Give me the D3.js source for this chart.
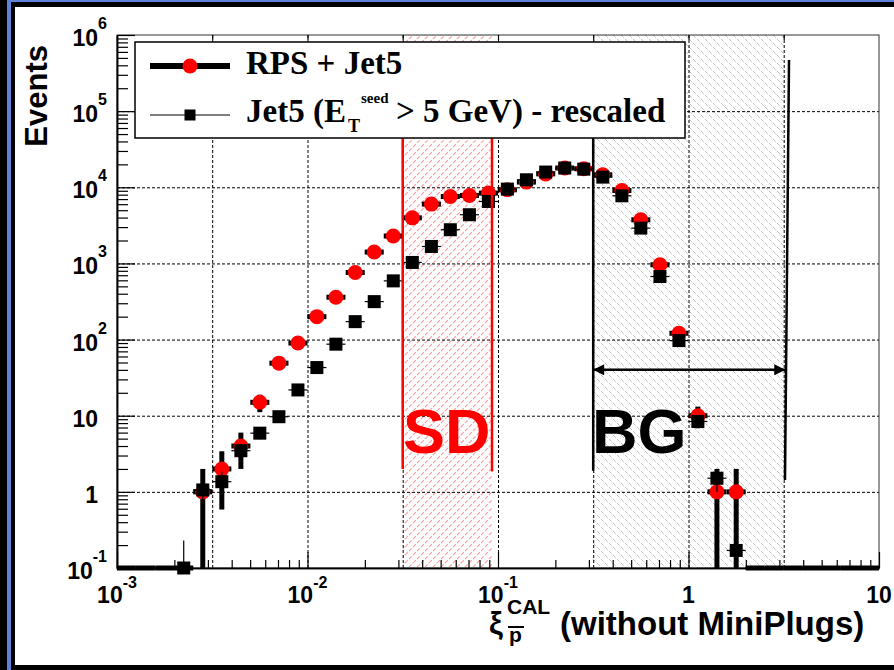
<!DOCTYPE html>
<html>
<head>
<meta charset="utf-8">
<script src="https://cdnjs.cloudflare.com/ajax/libs/d3/7.8.5/d3.min.js"></script>
<style>
body { margin:0; background:#fff; }
svg { display:block; }
.grid line { stroke:#000; stroke-width:1; stroke-dasharray:3,2; }
.grid path { display:none; }
.ax path { stroke:#000; stroke-width:1.5; }
.ax line { stroke:#000; stroke-width:1.2; }
</style>
</head>
<body>
<div id="chart-area"></div>
<script>
// bin centres of xi (bins 0.1 wide in log10)
var xiBins = [0.00112, 0.00141, 0.00178, 0.00224, 0.00282, 0.00355, 0.00447, 0.00562, 0.00708, 0.00891,
              0.0112, 0.0141, 0.0178, 0.0224, 0.0282, 0.0355, 0.0447, 0.0562, 0.0708, 0.0891,
              0.112, 0.141, 0.178, 0.224, 0.282, 0.355, 0.447, 0.562, 0.708, 0.891,
              1.12, 1.41, 1.78, 2.24, 2.82, 3.55, 4.47, 5.62, 7.08, 8.91];

// RPS + Jet5 (counts)
var rpsJet5 = [0, 0, 0, 0, 1, 2, 4, 15, 49, 90,
               200, 360, 760, 1410, 2290, 3970, 6010, 7570, 7800, 8390,
               9270, 11700, 15000, 17900, 17500, 14600, 9080, 3740, 960, 121,
               10, 1, 1, 0, 0, 0, 0, 0, 0, 0];

// Jet5 (E_T seed > 5 GeV) - rescaled
var jet5Rescaled = [0, 0, 0, 0.1, 1.06, 1.36, 3.47, 5.9, 9.7, 21.8,
                    42.9, 87, 172, 315, 590, 1030, 1670, 2770, 4360, 6510,
                    9460, 12550, 15850, 17900, 17300, 13600, 7730, 2910, 673, 97,
                    8.4, 1.51, 0.17, 0, 0, 0, 0, 0, 0, 0];
var rescale = 0.17;

var xTickVals = [1e-3, 1e-2, 1e-1, 1, 10];
var xTickBase = ['10', '10', '10', '1', '10'];
var xTickExp  = ['-3', '-2', '-1', '', ''];
var yTickVals = [1e6, 1e5, 1e4, 1e3, 1e2, 10, 1, 0.1];
var yTickBase = ['10', '10', '10', '10', '10', '10', '1', '10'];
var yTickExp  = ['6', '5', '4', '3', '2', '', '', '-1'];
var xGridVals = [0.00316, 0.01, 0.0316, 0.1, 0.316, 1, 3.16];
var yGridVals = [1, 10, 100, 1e3, 1e4, 1e5];

var sdRange = [0.0316, 0.093];
var bgRange = [0.316, 3.16];

var W = 894, H = 670;
var padLeft = 117, padTop = 35;
var width = 762, height = 533;

var svg = d3.select('#chart-area').append('svg')
    .attr('width', W)
    .attr('height', H);

// slide frame
svg.append('rect').attr('x', 0).attr('y', 0).attr('width', 7).attr('height', H).attr('fill', '#000');
svg.append('rect').attr('x', 7).attr('y', 0).attr('width', 4).attr('height', H).attr('fill', '#5f82d8');
svg.append('rect').attr('x', 7).attr('y', 0).attr('width', W - 7).attr('height', 2).attr('fill', '#5f82d8');
svg.append('rect').attr('x', 11).attr('y', 2).attr('width', W - 11).attr('height', 5).attr('fill', '#000');
svg.append('rect').attr('x', 11).attr('y', 2).attr('width', 4).attr('height', H - 2).attr('fill', '#000');
svg.append('rect').attr('x', 11).attr('y', 665).attr('width', W - 11).attr('height', 5).attr('fill', '#000');

var defs = svg.append('defs');
var pr = defs.append('pattern').attr('id', 'hatchRed')
    .attr('patternUnits', 'userSpaceOnUse').attr('width', 8).attr('height', 8);
pr.append('path').attr('d', 'M0,8 L8,0 M-2,2 L2,-2 M6,10 L10,6')
    .attr('stroke', '#ff9a9a').attr('stroke-width', 1.1).attr('stroke-dasharray', '4,1.5');
var pg = defs.append('pattern').attr('id', 'hatchGrey')
    .attr('patternUnits', 'userSpaceOnUse').attr('width', 8).attr('height', 8);
pg.append('path').attr('d', 'M0,0 L8,8 M-2,6 L2,10 M6,-2 L10,2')
    .attr('stroke', '#c2c2c2').attr('stroke-width', 1).attr('stroke-dasharray', '4,1.5');

var g = svg.append('g')
    .attr('transform', 'translate(' + padLeft + ',' + padTop + ')');

var x = d3.scaleLog().domain([1e-3, 10]).range([0, width]);
var y = d3.scaleLog().domain([0.1, 1e6]).range([height, 0]);

// hatched regions
g.append('rect')
    .attr('x', x(sdRange[0])).attr('y', 0)
    .attr('width', x(sdRange[1]) - x(sdRange[0])).attr('height', height)
    .attr('fill', 'url(#hatchRed)');
g.append('rect')
    .attr('x', x(bgRange[0])).attr('y', 0)
    .attr('width', x(bgRange[1]) - x(bgRange[0])).attr('height', height)
    .attr('fill', 'url(#hatchGrey)');

// grid
g.append('g').attr('class', 'grid')
    .attr('transform', 'translate(0,' + height + ')')
    .call(d3.axisBottom(x).tickValues(xGridVals).tickSize(-height).tickSizeOuter(0).tickFormat(''));
g.append('g').attr('class', 'grid')
    .call(d3.axisLeft(y).tickValues(yGridVals).tickSize(-width).tickSizeOuter(0).tickFormat(''));

// frame of the pad
g.append('rect').attr('x', 0).attr('y', 0).attr('width', width).attr('height', height)
    .attr('fill', 'none').attr('stroke', '#333').attr('stroke-width', 1);

// minor tick positions
var xMinor = [], yMinor = [];
xTickVals.slice(0, -1).forEach(function(d){
    for (var k = 2; k < 10; k++) xMinor.push(d * k);
});
d3.range(-1, 6).forEach(function(e){
    for (var k = 2; k < 10; k++) yMinor.push(Math.pow(10, e) * k);
});

g.append('g').attr('class', 'ax')
    .attr('transform', 'translate(0,' + height + ')')
    .call(d3.axisBottom(x).tickValues(xMinor).tickSize(-8).tickSizeOuter(0).tickFormat(''));
g.append('g').attr('class', 'ax')
    .attr('transform', 'translate(0,' + height + ')')
    .call(d3.axisBottom(x).tickValues(xTickVals).tickSize(-16).tickSizeOuter(0).tickFormat(''));
g.append('g').attr('class', 'ax')
    .call(d3.axisTop(x).tickValues(xGridVals).tickSize(-5).tickSizeOuter(0).tickFormat(''))
    .select('path').remove();
g.append('g').attr('class', 'ax')
    .call(d3.axisLeft(y).tickValues(yMinor).tickSize(-11).tickSizeOuter(0).tickFormat(''));
g.append('g').attr('class', 'ax')
    .call(d3.axisLeft(y).tickValues(yTickVals).tickSize(-18).tickSizeOuter(0).tickFormat(''));

// tick labels
var labFont = "'Liberation Sans', Arial, sans-serif";
xTickVals.forEach(function(d, i){
    var t = g.append('text')
        .attr('x', x(d)).attr('y', height + 35)
        .attr('text-anchor', 'middle')
        .attr('font-family', labFont).attr('font-weight', 'bold').attr('font-size', 23);
    t.append('tspan').text(xTickBase[i]);
    if (xTickExp[i]) t.append('tspan').attr('dy', -15).attr('font-size', 16).text(xTickExp[i]);
});
yTickVals.forEach(function(d, i){
    var t = g.append('text')
        .attr('x', yTickExp[i] ? -10 : -19)
        .attr('y', y(d) + 11)
        .attr('text-anchor', 'end')
        .attr('font-family', labFont).attr('font-weight', 'bold').attr('font-size', 23);
    t.append('tspan').text(yTickBase[i]);
    if (yTickExp[i]) t.append('tspan').attr('dy', -17).attr('font-size', 16).text(yTickExp[i]);
});

// data: histograms with error bars
var halfBin = Math.pow(10, 0.05);
function drawSeries(vals, errFn, lw, drawMarker) {
    var s = g.append('g');
    vals.forEach(function(v, i){
        var xc = xiBins[i];
        var yc = v > 0.1 ? y(v) : height;
        s.append('line')
            .attr('x1', x(xc / halfBin)).attr('x2', x(xc * halfBin))
            .attr('y1', yc).attr('y2', yc)
            .attr('stroke', '#000').attr('stroke-width', lw);
        if (v > 0) {
            var e = errFn(v);
            var lo = v - e > 0.1 ? y(v - e) : height;
            var hi = y(v + e);
            s.append('line')
                .attr('x1', x(xc)).attr('x2', x(xc))
                .attr('y1', lo).attr('y2', hi)
                .attr('stroke', '#000').attr('stroke-width', lw);
        }
    });
    vals.forEach(function(v, i){
        if (v > 0) drawMarker(s, x(xiBins[i]), v > 0.1 ? y(v) : height);
    });
}

drawSeries(rpsJet5, function(v){ return Math.sqrt(v); }, 5, function(s, cx, cy){
    s.append('circle').attr('cx', cx).attr('cy', cy).attr('r', 7.5).attr('fill', '#ff0000');
});
drawSeries(jet5Rescaled, function(v){ return Math.sqrt(rescale * v); }, 1.2, function(s, cx, cy){
    s.append('rect').attr('x', cx - 6.5).attr('y', cy - 6.5).attr('width', 13).attr('height', 13).attr('fill', '#000');
});

// axis titles
svg.append('text')
    .attr('transform', 'translate(47,45) rotate(-90)')
    .attr('text-anchor', 'end')
    .attr('font-family', labFont).attr('font-weight', 'bold').attr('font-size', 31)
    .text('Events');

svg.append('text').attr('x', 489).attr('y', 634)
    .attr('font-family', labFont).attr('font-weight', 'bold').attr('font-size', 31)
    .text('\u03BE');
svg.append('text').attr('x', 507).attr('y', 614)
    .attr('font-family', labFont).attr('font-weight', 'bold').attr('font-size', 21)
    .text('CAL');
svg.append('text').attr('x', 509).attr('y', 642)
    .attr('font-family', labFont).attr('font-weight', 'bold').attr('font-size', 21)
    .text('p');
svg.append('line').attr('x1', 508).attr('x2', 524).attr('y1', 627).attr('y2', 627)
    .attr('stroke', '#000').attr('stroke-width', 2);
svg.append('text').attr('x', 560).attr('y', 635)
    .attr('font-family', labFont).attr('font-weight', 'bold').attr('font-size', 33)
    .text('(without MiniPlugs)');

// legend
var serif = "'Liberation Serif', 'Times New Roman', serif";
var leg = svg.append('g');
leg.append('rect').attr('x', 135).attr('y', 42).attr('width', 550).attr('height', 96)
    .attr('fill', '#fff').attr('stroke', '#000').attr('stroke-width', 1.5);
leg.append('line').attr('x1', 150).attr('x2', 230).attr('y1', 66).attr('y2', 66)
    .attr('stroke', '#000').attr('stroke-width', 6);
leg.append('circle').attr('cx', 190).attr('cy', 66).attr('r', 7.5).attr('fill', '#ff0000');
leg.append('line').attr('x1', 150).attr('x2', 230).attr('y1', 115).attr('y2', 115)
    .attr('stroke', '#000').attr('stroke-width', 1.2);
leg.append('rect').attr('x', 184.5).attr('y', 109.5).attr('width', 11).attr('height', 11).attr('fill', '#000');
leg.append('text').attr('x', 246).attr('y', 74)
    .attr('font-family', serif).attr('font-weight', 'bold').attr('font-size', 33)
    .text('RPS + Jet5');
leg.append('text').attr('x', 246).attr('y', 122)
    .attr('font-family', serif).attr('font-weight', 'bold').attr('font-size', 33)
    .text('Jet5 (E');
leg.append('text').attr('x', 348).attr('y', 132)
    .attr('font-family', serif).attr('font-weight', 'bold').attr('font-size', 18)
    .text('T');
leg.append('text').attr('x', 361).attr('y', 103)
    .attr('font-family', serif).attr('font-weight', 'bold').attr('font-size', 15)
    .text('seed');
leg.append('text').attr('x', 396).attr('y', 122)
    .attr('font-family', serif).attr('font-weight', 'bold').attr('font-size', 33)
    .text('> 5 GeV) - rescaled');

// SD / BG annotations
var ann = g.append('g');
ann.append('line').attr('x1', x(sdRange[0])).attr('x2', x(sdRange[0]))
    .attr('y1', y(6.6e5)).attr('y2', y(2)).attr('stroke', '#ff0000').attr('stroke-width', 2.5);
ann.append('line').attr('x1', x(sdRange[1])).attr('x2', x(sdRange[1]))
    .attr('y1', y(6.0e5)).attr('y2', y(1.85)).attr('stroke', '#ff0000').attr('stroke-width', 2.5);
ann.append('line').attr('x1', x(bgRange[0])).attr('x2', x(bgRange[0]))
    .attr('y1', y(6.0e5)).attr('y2', y(1.9)).attr('stroke', '#000').attr('stroke-width', 2.5);
ann.append('line').attr('x1', x(3.37)).attr('x2', x(3.21))
    .attr('y1', y(4.7e5)).attr('y2', y(1.43)).attr('stroke', '#000').attr('stroke-width', 2.5);

defs.append('marker').attr('id', 'ah').attr('viewBox', '0 0 10 10')
    .attr('refX', 10).attr('refY', 5).attr('markerWidth', 14).attr('markerHeight', 11)
    .attr('markerUnits', 'userSpaceOnUse').attr('orient', 'auto-start-reverse')
    .append('path').attr('d', 'M0,0 L10,5 L0,10 Z').attr('fill', '#000');
ann.append('line').attr('x1', x(bgRange[0])).attr('x2', x(3.22))
    .attr('y1', y(40)).attr('y2', y(40))
    .attr('stroke', '#000').attr('stroke-width', 2.5)
    .attr('marker-start', 'url(#ah)').attr('marker-end', 'url(#ah)');

svg.append('text').attr('x', 403).attr('y', 453)
    .attr('font-family', labFont).attr('font-weight', 'bold').attr('font-size', 63)
    .attr('fill', '#ff0000').text('SD');
svg.append('text').attr('x', 592).attr('y', 453)
    .attr('font-family', labFont).attr('font-weight', 'bold').attr('font-size', 63)
    .attr('fill', '#000').text('BG');
</script>
</body>
</html>
